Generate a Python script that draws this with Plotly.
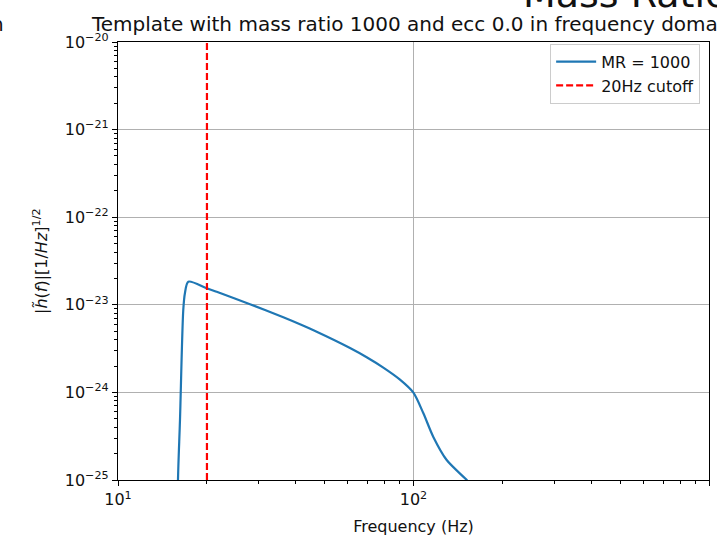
import plotly.graph_objects as go

# ---- data ----
freq_hz = [15.90, 15.96, 16.21, 16.63, 16.85, 17.30, 19.96, 21.58, 27.97, 36.26,
           41.29, 47.03, 60.98, 69.43, 79.04, 90.0, 99.8, 108.0, 116.7, 129.5,
           149.4, 155.2]
amplitude = [1.0e-26, 1.0e-25, 4.84e-25, 8.73e-24, 1.365e-23, 1.837e-23, 1.545e-23,
             1.406e-23, 1.016e-23, 7.19e-24, 5.98e-24, 4.92e-24, 3.21e-24, 2.52e-24,
             1.92e-24, 1.40e-24, 1.0e-24, 5.77e-25, 3.10e-25, 1.69e-25, 1.045e-25,
             9.16e-26]
cutoff_hz = 20
cutoff_y = [1e-25, 1e-20]
series_name = "MR = 1000"
cutoff_name = "20Hz cutoff"
title_text = "Template with mass ratio 1000 and ecc 0.0 in frequency domain"
suptitle_text = "Mass Ratio"
neighbour_title_tail = "h"
x_ticks = [10, 100, 1000]
x_ticklabels = ["10<sup>1</sup>", "10<sup>2</sup>", "10<sup>3</sup>"]
y_exps = [-25, -24, -23, -22, -21, -20]
y_ticks = [10.0 ** e for e in y_exps]
y_ticklabels = ["10<sup>\u2212%d</sup>" % (-e) for e in y_exps]

x_minor = [m * 10 ** d for d in (1, 2) for m in range(2, 10)]
y_minor = [m * 10.0 ** d for d in (-25, -24, -23, -22, -21) for m in range(2, 10)]

FONT = "DejaVu Sans"
TXT = "#111"

fig = go.Figure()
fig.add_trace(go.Scatter(x=freq_hz, y=amplitude, mode="lines", name=series_name,
                         line=dict(color="#1f77b4", width=2.2, shape="spline",
                                   smoothing=0.8)))
fig.add_trace(go.Scatter(x=[cutoff_hz, cutoff_hz], y=cutoff_y, mode="lines",
                         name=cutoff_name,
                         line=dict(color="#ff0000", width=2.2, dash="7px,3px")))
# invisible carrier trace so that the minor-tick overlay axes are drawn
fig.add_trace(go.Scatter(x=freq_hz, y=amplitude, mode="lines", xaxis="x2", yaxis="y2",
                         showlegend=False, hoverinfo="skip", opacity=0,
                         line=dict(width=0)))

axis_common = dict(
    type="log", showline=True, mirror=True, linecolor="black", linewidth=1.2,
    ticks="outside", ticklen=5, tickwidth=1, tickcolor="black",
    showgrid=True, gridcolor="#b0b0b0", gridwidth=1, zeroline=False,
    tickfont=dict(family=FONT, size=16, color=TXT),
    tickmode="array", automargin=False,
)
minor_common = dict(
    type="log", showline=False, showgrid=False, zeroline=False,
    ticks="outside", ticklen=3, tickwidth=1, tickcolor="black",
    tickmode="array", showticklabels=False, automargin=False,
)

fig.update_layout(
    width=717, height=538,
    margin=dict(l=118, r=8, t=42, b=58),
    paper_bgcolor="white", plot_bgcolor="white",
    font=dict(family=FONT, size=16, color=TXT),
    showlegend=True,
    xaxis=dict(**axis_common, range=[1, 3], tickvals=x_ticks, ticktext=x_ticklabels,
               title=dict(text="Frequency (Hz)", font=dict(family=FONT, size=16, color=TXT),
                          standoff=12)),
    yaxis=dict(**axis_common, range=[-25, -20], tickvals=y_ticks, ticktext=y_ticklabels),
    xaxis2=dict(**minor_common, range=[1, 3], tickvals=x_minor, overlaying="x",
                anchor="y", side="bottom"),
    yaxis2=dict(**minor_common, range=[-25, -20], tickvals=y_minor, overlaying="y",
                anchor="x", side="left"),
    legend=dict(x=0.985, y=0.996, xanchor="right", yanchor="top",
                bgcolor="rgba(255,255,255,0.8)", bordercolor="#cccccc", borderwidth=1,
                itemwidth=40,
                font=dict(family=FONT, size=16, color=TXT)),
    annotations=[
        dict(text=title_text, xref="paper", yref="paper", x=0.5, y=1.0, yshift=4,
             xanchor="center", yanchor="bottom", showarrow=False,
             font=dict(family=FONT, size=20, color=TXT)),
        dict(text=neighbour_title_tail, xref="paper", yref="paper", x=(6 - 118) / 591.0,
             y=1.0, yshift=4, xanchor="right", yanchor="bottom", showarrow=False,
             font=dict(family=FONT, size=20, color=TXT)),
        dict(text=suptitle_text, xref="paper", yref="paper", x=(521 - 118) / 591.0,
             y=1.0, yshift=24, xanchor="left", yanchor="bottom", showarrow=False,
             font=dict(family=FONT, size=38, color=TXT)),
        dict(text="|<i>h\u0303</i>(<i>f</i>)|[1/<i>Hz</i>]<sup>1/2</sup>",
             xref="paper", yref="paper", x=(40 - 118) / 591.0, y=0.5,
             xanchor="center", yanchor="middle", textangle=-90, showarrow=False,
             font=dict(family=FONT, size=16, color=TXT)),
    ],
)

fig.write_html("out.html")
